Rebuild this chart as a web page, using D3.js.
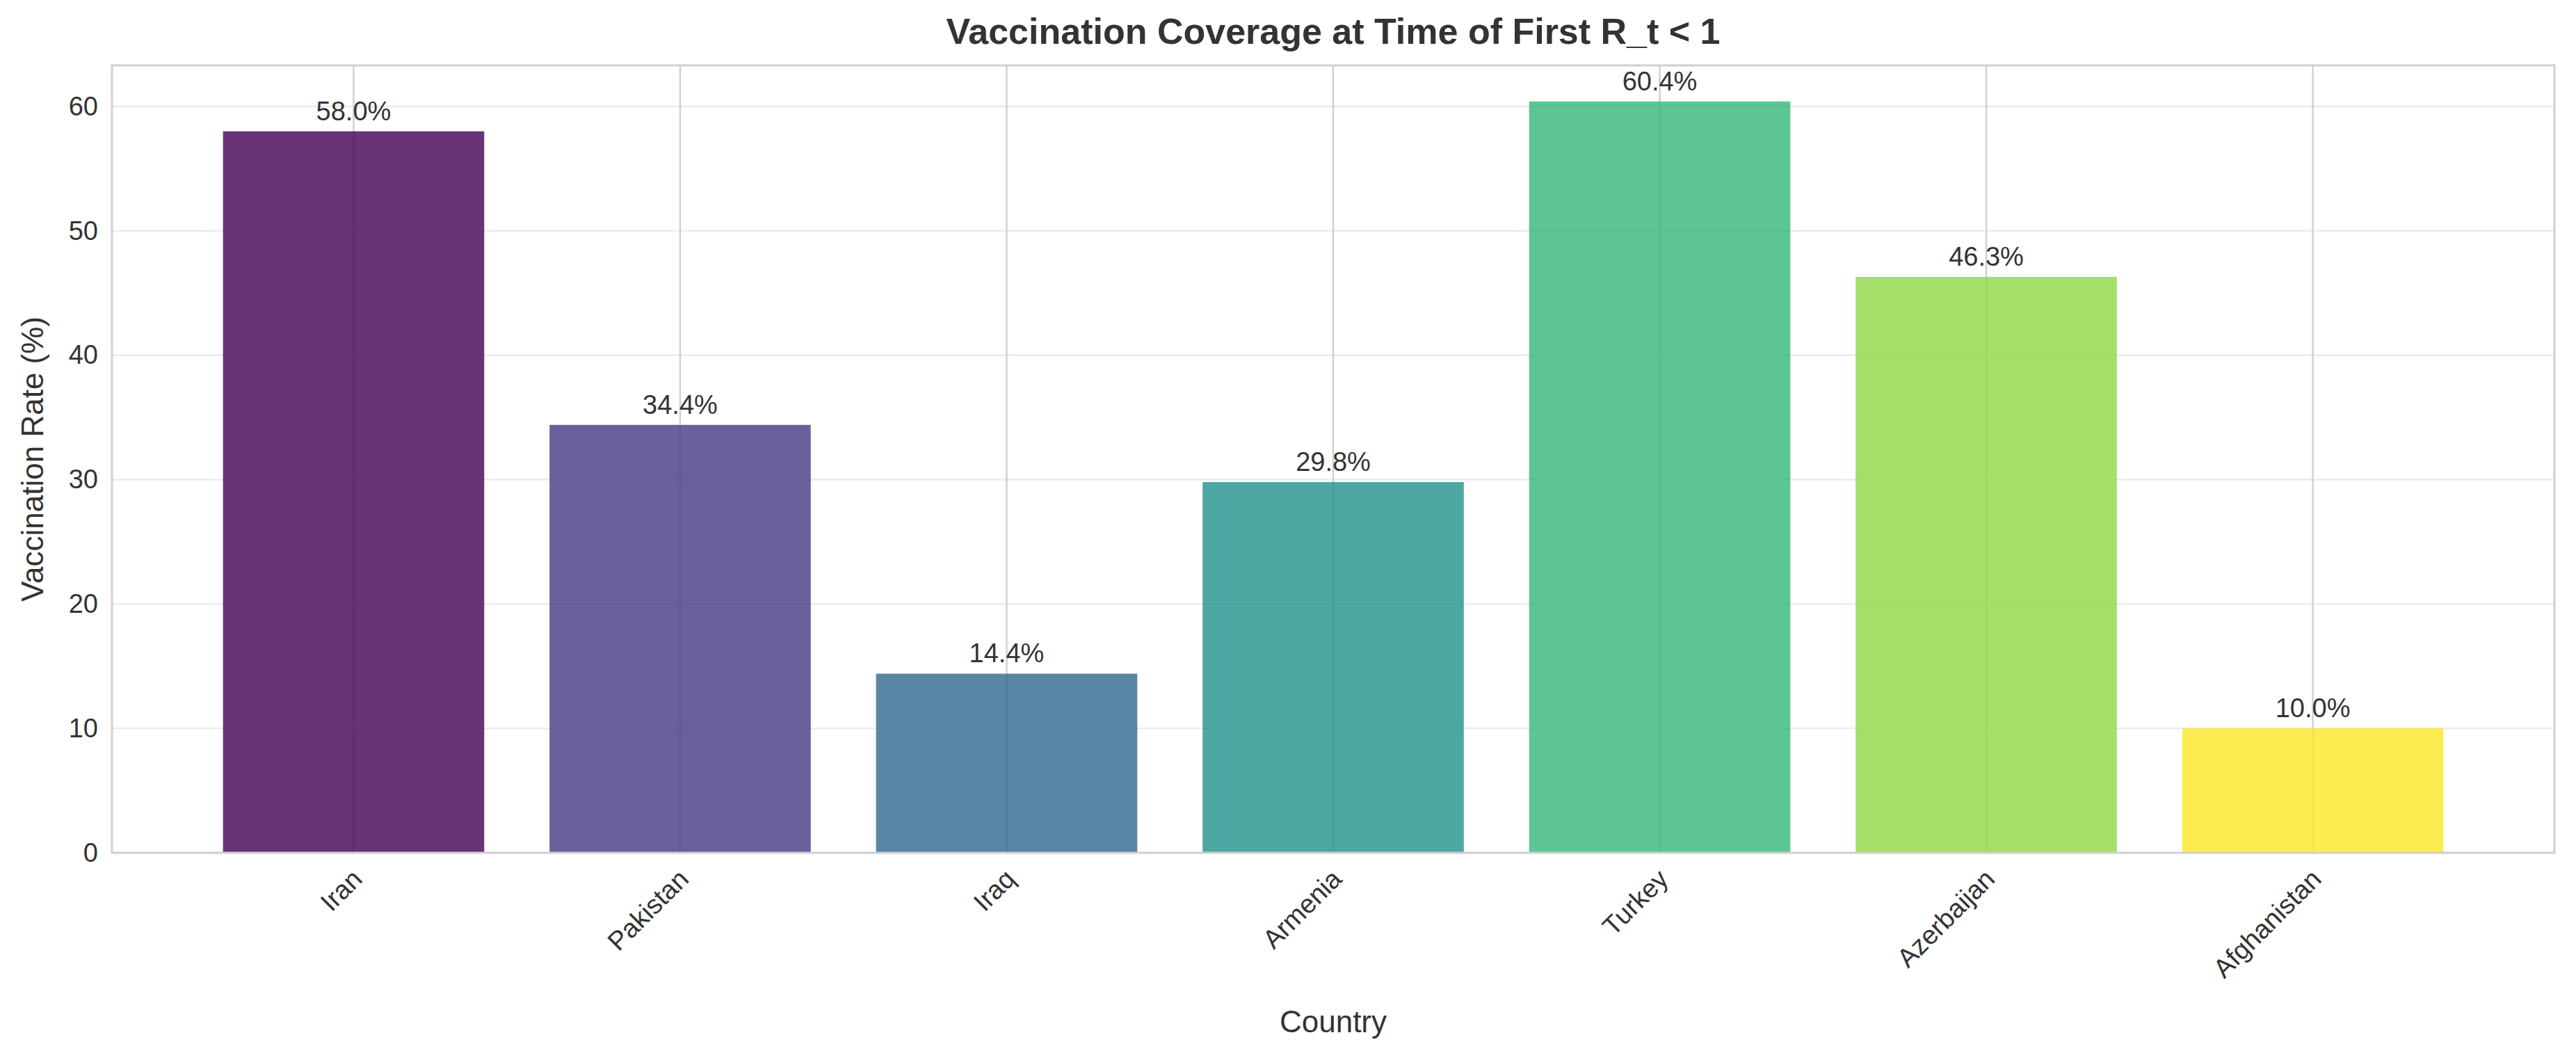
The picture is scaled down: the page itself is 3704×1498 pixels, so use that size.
<!DOCTYPE html>
<html>
<head>
<script src="https://d3js.org/d3.v7.min.js"></script>
<style>body{margin:0;background:#fff;font-family:"Liberation Sans",Arial,sans-serif;}</style>
</head>
<body>
<svg id="chart" width="3704" height="1498"></svg>
<script>
// data
const countries = ["Iran", "Pakistan", "Iraq", "Armenia", "Turkey", "Azerbaijan", "Afghanistan"];
const rates = [58.0, 34.4, 14.4, 29.8, 60.4, 46.3, 10.0];
const colors = ["#440154", "#443983", "#31688e", "#21918c", "#35b779", "#90d743", "#fde725"];
const yTicks = [0, 10, 20, 30, 40, 50, 60];

const svg = d3.select("#chart");
const m = {left: 161, right: 3673, top: 94, bottom: 1226};

const x = d3.scaleLinear().domain([-0.74, countries.length - 1 + 0.74]).range([m.left, m.right]);
const y = d3.scaleLinear().domain([0, 63.3]).range([m.bottom, m.top]);
const bw = x(0.8) - x(0);

// grid
svg.append("g").selectAll("line").data(yTicks).join("line")
  .attr("x1", m.left).attr("x2", m.right)
  .attr("y1", d => y(d)).attr("y2", d => y(d))
  .attr("stroke", "#ebebeb").attr("stroke-width", 2.4);
svg.append("g").selectAll("line").data(countries).join("line")
  .attr("x1", (d, i) => x(i)).attr("x2", (d, i) => x(i))
  .attr("y1", m.top).attr("y2", m.bottom)
  .attr("stroke", "#cfcfcf").attr("stroke-width", 2.4);

// bars
svg.append("g").selectAll("rect").data(rates).join("rect")
  .attr("x", (d, i) => x(i) - bw / 2).attr("width", bw)
  .attr("y", d => y(d)).attr("height", d => y(0) - y(d))
  .attr("fill", (d, i) => colors[i]).attr("fill-opacity", 0.8);

// value labels
svg.append("g").selectAll("text").data(rates).join("text")
  .attr("x", (d, i) => x(i)).attr("y", d => y(d) - 16)
  .attr("text-anchor", "middle").attr("font-size", 38).attr("fill", "#333")
  .text(d => d.toFixed(1) + "%");

// frame
svg.append("rect").attr("x", m.left).attr("y", m.top)
  .attr("width", m.right - m.left).attr("height", m.bottom - m.top)
  .attr("fill", "none").attr("stroke", "#d0d0d0").attr("stroke-width", 3);

// y axis
const yAxis = svg.append("g").attr("transform", `translate(${m.left},0)`)
  .call(d3.axisLeft(y).tickValues(yTicks).tickSize(0).tickPadding(20));
yAxis.select(".domain").remove();
yAxis.selectAll("text").attr("font-size", 38).attr("fill", "#333").attr("font-family", "Liberation Sans, Arial, sans-serif");

// x axis
const xAxis = svg.append("g").attr("transform", `translate(0,${m.bottom})`)
  .call(d3.axisBottom(x).tickValues(d3.range(countries.length)).tickFormat(i => countries[i]).tickSize(0).tickPadding(0));
xAxis.select(".domain").remove();
xAxis.selectAll("text").attr("font-size", 38).attr("fill", "#333")
  .attr("font-family", "Liberation Sans, Arial, sans-serif")
  .attr("text-anchor", "end").attr("dy", 0)
  .attr("transform", "translate(14,40) rotate(-45)");

// titles
svg.append("text").attr("x", (m.left + m.right) / 2).attr("y", 63)
  .attr("text-anchor", "middle").attr("font-size", 52).attr("font-weight", "bold").attr("fill", "#333")
  .text("Vaccination Coverage at Time of First R_t < 1");
svg.append("text").attr("transform", `translate(62,${(m.top + m.bottom) / 2}) rotate(-90)`)
  .attr("text-anchor", "middle").attr("font-size", 44).attr("fill", "#333")
  .text("Vaccination Rate (%)");
svg.append("text").attr("x", (m.left + m.right) / 2).attr("y", 1484)
  .attr("text-anchor", "middle").attr("font-size", 44).attr("fill", "#333")
  .text("Country");
</script>
</body>
</html>
